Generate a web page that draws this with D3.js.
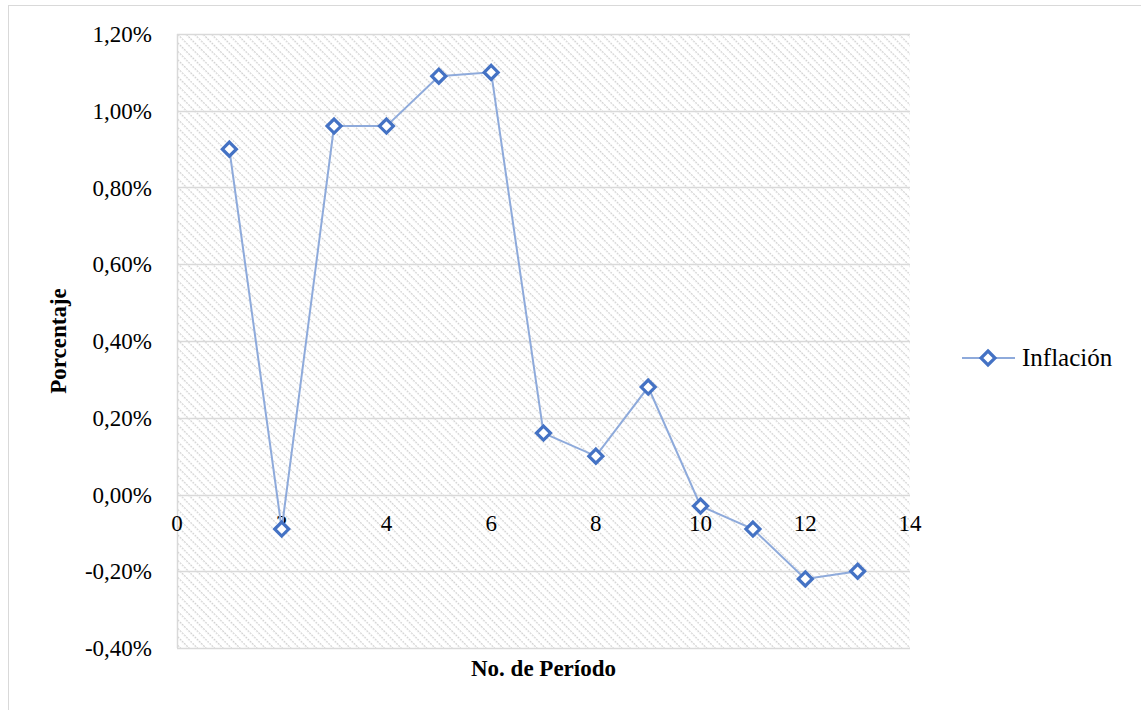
<!DOCTYPE html>
<html>
<head>
<meta charset="utf-8">
<script src="https://cdn.jsdelivr.net/npm/d3@7"></script>
<style>
body { margin: 0; background: #fff; }
text { font-family: "Liberation Serif", "Times New Roman", serif; }
</style>
</head>
<body>
<script>
// data
var periodos = [1, 2, 3, 4, 5, 6, 7, 8, 9, 10, 11, 12, 13];
var inflacion = [0.90, -0.09, 0.96, 0.96, 1.09, 1.10, 0.16, 0.10, 0.28, -0.03, -0.09, -0.22, -0.20];
var xTicks = [0, 2, 4, 6, 8, 10, 12, 14];
var yTicks = [-0.4, -0.2, 0, 0.2, 0.4, 0.6, 0.8, 1.0, 1.2];
var serieName = "Inflación";

var width = 1141, height = 710;
var plotLeft = 177, plotRight = 910, plotTop = 34, plotBottom = 648;

var svg = d3.select("body").append("svg")
    .attr("width", width)
    .attr("height", height);

// outer frame
svg.append("rect")
    .attr("x", 8.5).attr("y", 5.5)
    .attr("width", 1140).attr("height", 720)
    .attr("fill", "none")
    .attr("stroke", "#d9d9d9");

var defs = svg.append("defs");
var pat = defs.append("pattern")
    .attr("id", "hatch")
    .attr("patternUnits", "userSpaceOnUse")
    .attr("width", 6).attr("height", 6)
    .attr("patternTransform", "rotate(45)");
pat.append("rect").attr("width", 6).attr("height", 6).attr("fill", "#fff");
pat.append("line")
    .attr("x1", 0).attr("y1", 0).attr("x2", 6).attr("y2", 0)
    .attr("stroke", "#d2d2d2")
    .attr("stroke-width", 2.6)
    .attr("stroke-dasharray", "2,1");

var x = d3.scaleLinear().domain([0, 14]).range([plotLeft, plotRight]);
var y = d3.scaleLinear().domain([-0.4, 1.2]).range([plotBottom, plotTop]);

svg.append("rect")
    .attr("x", plotLeft).attr("y", plotTop)
    .attr("width", plotRight - plotLeft).attr("height", plotBottom - plotTop)
    .attr("fill", "url(#hatch)");

// horizontal gridlines
svg.append("g").selectAll("line")
    .data(yTicks)
    .enter().append("line")
    .attr("x1", plotLeft).attr("x2", plotRight)
    .attr("y1", function(d) { return Math.round(y(d)) + 0.5; })
    .attr("y2", function(d) { return Math.round(y(d)) + 0.5; })
    .attr("stroke", "#d9d9d9")
    .attr("stroke-width", 1.5);

// left edge line
svg.append("line")
    .attr("x1", plotLeft + 0.5).attr("x2", plotLeft + 0.5)
    .attr("y1", plotTop).attr("y2", plotBottom)
    .attr("stroke", "#d9d9d9")
    .attr("stroke-width", 1.5);

var fmtY = function(d) { return d3.format(".2f")(d).replace(".", ",").replace("−", "-") + "%"; };

// y tick labels
svg.append("g").selectAll("text")
    .data(yTicks)
    .enter().append("text")
    .attr("x", 152)
    .attr("y", function(d) { return y(d) + 8; })
    .attr("text-anchor", "end")
    .attr("font-size", 23)
    .text(fmtY);

// x tick labels (axis sits at zero)
svg.append("g").selectAll("text")
    .data(xTicks)
    .enter().append("text")
    .attr("x", function(d) { return x(d); })
    .attr("y", y(0) + 36)
    .attr("text-anchor", "middle")
    .attr("font-size", 23)
    .text(function(d) { return d; });

// axis titles
svg.append("text")
    .attr("transform", "translate(66," + ((plotTop + plotBottom) / 2) + ") rotate(-90)")
    .attr("text-anchor", "middle")
    .attr("font-size", 23)
    .attr("font-weight", "bold")
    .text("Porcentaje");

svg.append("text")
    .attr("x", (plotLeft + plotRight) / 2)
    .attr("y", 676)
    .attr("text-anchor", "middle")
    .attr("font-size", 23)
    .attr("font-weight", "bold")
    .text("No. de Período");

var pts = periodos.map(function(p, i) { return [p, inflacion[i]]; });

svg.append("path")
    .datum(pts)
    .attr("d", d3.line()
        .x(function(d) { return x(d[0]); })
        .y(function(d) { return y(d[1]); }))
    .attr("fill", "none")
    .attr("stroke", "#8eaadb")
    .attr("stroke-width", 2);

var diamond = function(cx, cy, r) {
    return "M" + cx + "," + (cy - r) + "L" + (cx + r) + "," + cy + "L" + cx + "," + (cy + r) + "L" + (cx - r) + "," + cy + "Z";
};

svg.append("g").selectAll("path")
    .data(pts)
    .enter().append("path")
    .attr("d", function(d) { return diamond(x(d[0]), y(d[1]), 7); })
    .attr("fill", "#fff")
    .attr("stroke", "#4472c4")
    .attr("stroke-width", 3.2);

// legend
var ly = 358;
svg.append("line")
    .attr("x1", 962).attr("x2", 1015)
    .attr("y1", ly).attr("y2", ly)
    .attr("stroke", "#8eaadb")
    .attr("stroke-width", 2);
svg.append("path")
    .attr("d", diamond(988, ly, 7))
    .attr("fill", "#fff")
    .attr("stroke", "#4472c4")
    .attr("stroke-width", 3.2);
svg.append("text")
    .attr("x", 1022)
    .attr("y", ly + 8)
    .attr("font-size", 25)
    .text(serieName);
</script>
</body>
</html>
